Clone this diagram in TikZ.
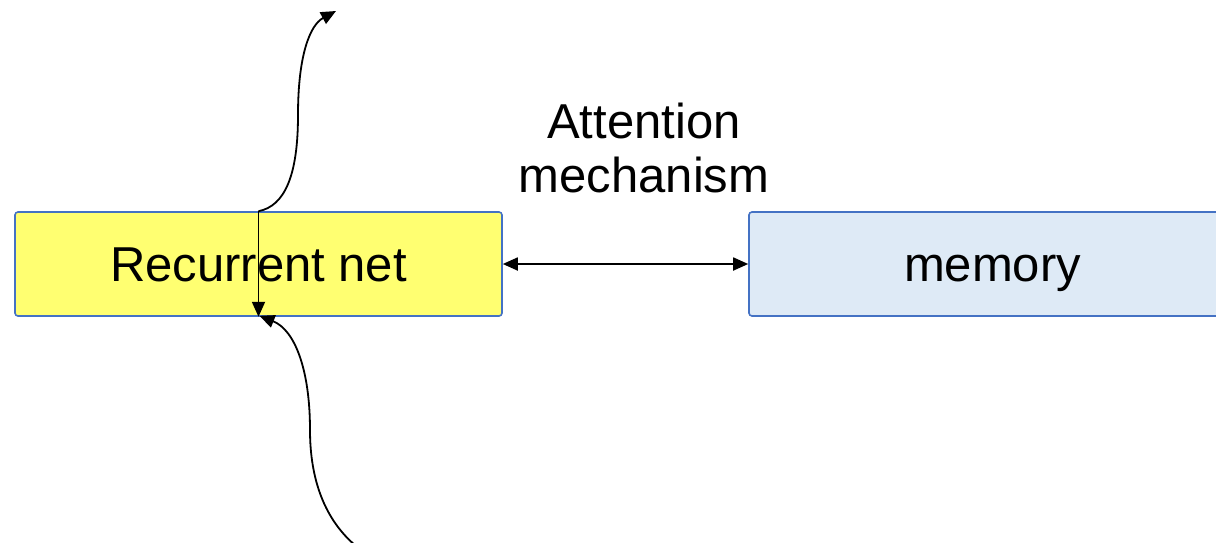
\documentclass[tikz,border=0pt]{standalone}
\usepackage{fontspec}
\setmainfont{Liberation Sans}
\usetikzlibrary{arrows.meta}
\definecolor{boxblue}{HTML}{4472C4}
\definecolor{rnfill}{HTML}{FFFF71}
\definecolor{memfill}{HTML}{DEEAF6}
\tikzset{
  blockbox/.style={draw=boxblue, line width=1.6pt, rounded corners=3pt, minimum width=487pt, minimum height=104pt,
    inner sep=0pt, text height=35pt, text depth=0pt, font=\fontsize{49pt}{55pt}\selectfont},
  conn/.style={line width=1.8pt, -{Triangle[length=15pt,width=13pt]}},
  lbl/.style={font=\fontsize{49pt}{54pt}\selectfont, align=center, inner sep=0pt}
}
\begin{document}
\begin{tikzpicture}[x=1pt,y=-1pt]
\useasboundingbox (0,0) rectangle (1216,542);
\clip (0,0) rectangle (1216,542);
\node[blockbox, fill=rnfill] (rn) at (258.5,264) {Recurrent net};
\node[blockbox, fill=memfill] (mem) at (992.5,264) {memory};
\node[lbl] (att) at (644,148) {Attention\\mechanism};
\coordinate (outtip) at (336,11);
\coordinate (instart) at (356,546);
\draw[line width=1.8pt, {Triangle[length=15pt,width=13pt]}-{Triangle[length=15pt,width=13pt]}] (rn.east) -- (mem.west);
\draw[conn] (rn.north) -- (rn.south);
\draw[conn] (rn.north) .. controls (285,206) and (298,175) .. (298,115) .. controls (298,55) and (310,25) .. (outtip);
\draw[conn] (instart) .. controls (325,520) and (310,480) .. (310,430) .. controls (310,370) and (295,330) .. ([xshift=1pt,yshift=1pt]rn.south);
\end{tikzpicture}
\end{document}
